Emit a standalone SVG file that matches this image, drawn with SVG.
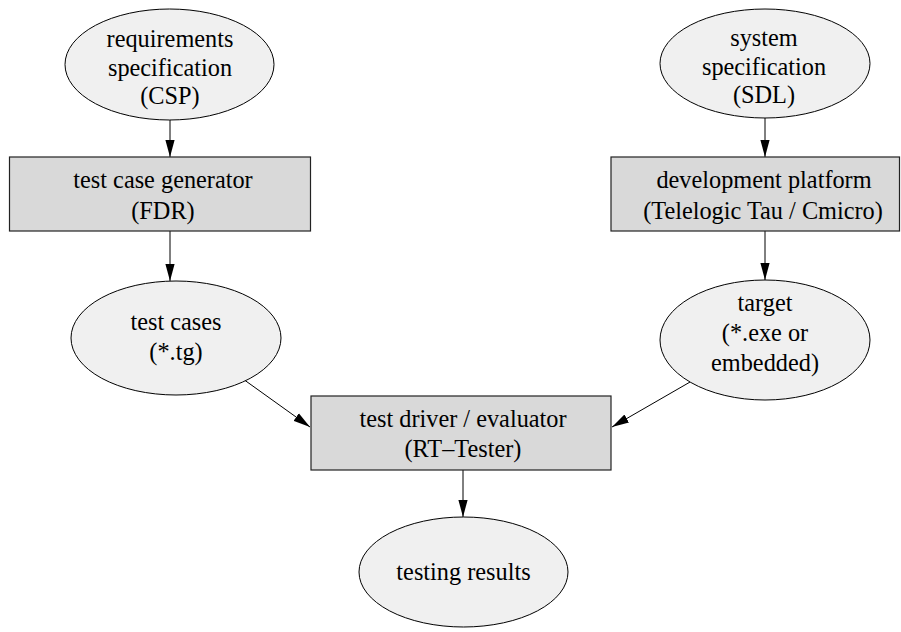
<svg xmlns="http://www.w3.org/2000/svg" width="901" height="632" viewBox="0 0 901 632">
  <style>
    .ell { fill: #f0f0f0; stroke: #000; stroke-width: 1; }
    .box { fill: #d9d9d9; stroke: #222; stroke-width: 1.2; }
    .lbl { font-family: "Liberation Serif", "Times New Roman", serif; font-size: 24.3px; fill: #000; text-anchor: middle; }
    .edge { stroke: #000; stroke-width: 1; fill: none; marker-end: url(#ah); }
  </style>
  <defs>
    <!-- filled triangular arrowhead, tip at line end -->
    <marker id="ah" markerWidth="18" markerHeight="10" refX="17" refY="5" orient="auto" markerUnits="userSpaceOnUse">
      <path d="M0,0.4 L17,5 L0,9.6 z" fill="#000"/>
    </marker>
  </defs>
  <rect width="901" height="632" fill="#fff"/>

  <!-- connectors -->
  <g id="edges">
    <line class="edge" x1="170" y1="120" x2="170" y2="157"/>
    <line class="edge" x1="765" y1="118" x2="765" y2="157"/>
    <line class="edge" x1="170" y1="231" x2="170" y2="281"/>
    <line class="edge" x1="765" y1="231" x2="765" y2="280"/>
    <line class="edge" x1="243" y1="379" x2="310" y2="427"/>
    <line class="edge" x1="697" y1="378" x2="612" y2="427"/>
    <line class="edge" x1="463" y1="470" x2="463" y2="517"/>
  </g>

  <g id="req-spec">
    <ellipse class="ell" cx="169.5" cy="64.5" rx="104.5" ry="55.5"/>
    <text class="lbl" x="170" y="47">requirements</text>
    <text class="lbl" x="170" y="76">specification</text>
    <text class="lbl" x="170" y="104">(CSP)</text>
  </g>

  <g id="sys-spec">
    <ellipse class="ell" cx="765" cy="63.5" rx="105" ry="54.5"/>
    <text class="lbl" x="764" y="46">system</text>
    <text class="lbl" x="764" y="75">specification</text>
    <text class="lbl" x="764" y="103">(SDL)</text>
  </g>

  <g id="tc-gen">
    <rect class="box" x="9.5" y="157" width="301" height="74"/>
    <text class="lbl" x="163" y="188">test case generator</text>
    <text class="lbl" x="163" y="219">(FDR)</text>
  </g>

  <g id="dev-platform">
    <rect class="box" x="611" y="157" width="288.5" height="74"/>
    <text class="lbl" x="764" y="188">development platform</text>
    <text class="lbl" x="763" y="219">(Telelogic Tau / Cmicro)</text>
  </g>

  <g id="test-cases">
    <ellipse class="ell" cx="176" cy="338" rx="105" ry="57"/>
    <text class="lbl" x="176" y="330">test cases</text>
    <text class="lbl" x="176" y="360">(*.tg)</text>
  </g>

  <g id="target">
    <ellipse class="ell" cx="765" cy="340" rx="105" ry="60"/>
    <text class="lbl" x="765" y="311">target</text>
    <text class="lbl" x="765" y="341">(*.exe or</text>
    <text class="lbl" x="765" y="371">embedded)</text>
  </g>

  <g id="test-driver">
    <rect class="box" x="311" y="396" width="300" height="74"/>
    <text class="lbl" x="463" y="427">test driver / evaluator</text>
    <text class="lbl" x="463" y="457">(RT–Tester)</text>
  </g>

  <g id="results">
    <ellipse class="ell" cx="463.5" cy="572" rx="104.5" ry="55"/>
    <text class="lbl" x="463.5" y="580">testing results</text>
  </g>
</svg>
